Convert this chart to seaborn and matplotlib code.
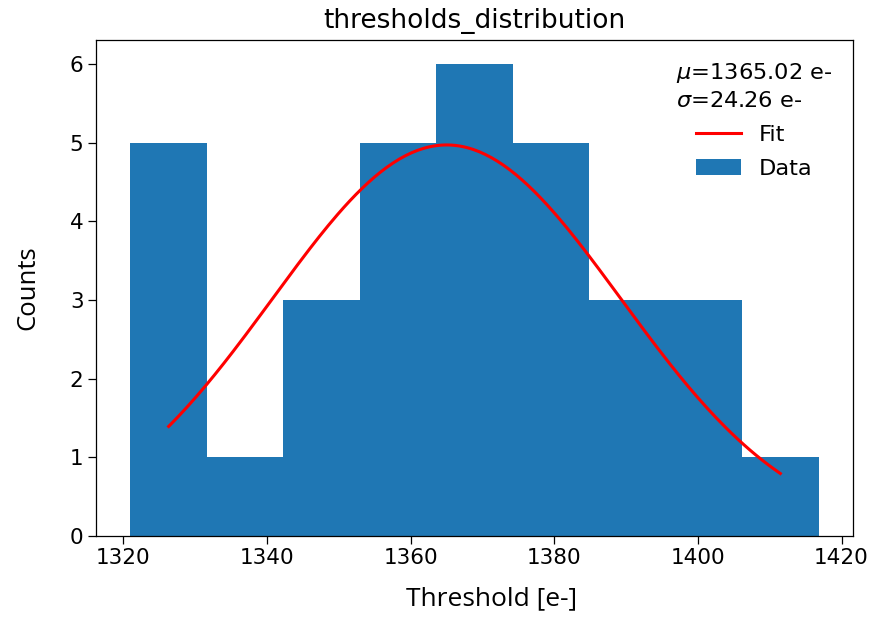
import numpy as np
import pandas as pd
import matplotlib
matplotlib.use("Agg")
import matplotlib.pyplot as plt
import seaborn as sns

# Histogram data
bin_edges = [1321.0, 1331.64, 1342.29, 1352.93, 1363.58, 1374.22, 1384.87, 1395.51, 1406.16, 1416.8]
counts = [5, 1, 3, 5, 6, 5, 3, 3, 1]

# Gaussian fit parameters
fit_mu = 1365.02
fit_sigma = 24.26
fit_amp = 4.97

title = "thresholds_distribution"
xlabel = "Threshold [e-]"
ylabel = "Counts"

centers = [(a + b) / 2 for a, b in zip(bin_edges[:-1], bin_edges[1:])]
hist_df = pd.DataFrame({"threshold": centers, "count": counts})

xs = np.linspace(centers[0], centers[-1], 200)
fit_df = pd.DataFrame({"x": xs, "y": fit_amp * np.exp(-0.5 * ((xs - fit_mu) / fit_sigma) ** 2)})

fig = plt.figure(figsize=(8.74, 6.2), dpi=100)
ax = fig.add_axes([0.1098, 0.1355, 0.8662, 0.7995])

sns.histplot(data=hist_df, x="threshold", weights="count", bins=bin_edges,
             color="#1f77b4", alpha=1.0, linewidth=0, ax=ax, label="Data")
sns.lineplot(data=fit_df, x="x", y="y", color="red", linewidth=2.2, ax=ax, label="Fit")

ax.set_xlim(1316.2, 1421.6)
ax.set_ylim(0, 6.3)
ax.set_xticks([1320, 1340, 1360, 1380, 1400, 1420])
ax.set_yticks([0, 1, 2, 3, 4, 5, 6])
ax.tick_params(labelsize=15.5, length=5.5, width=0.9, direction="out")
for s in ax.spines.values():
    s.set_linewidth(0.9)
    s.set_visible(True)

ax.set_title(title, fontsize=19, family="DejaVu Sans", pad=9)
ax.set_xlabel(xlabel, fontsize=19, family="Open Sans", labelpad=13)
ax.set_ylabel(ylabel, fontsize=18.5, family="Open Sans", labelpad=21)
ax.xaxis.label.set_x(0.522)

handles, labels = ax.get_legend_handles_labels()
order = [labels.index("Fit"), labels.index("Data")]
leg = ax.legend([handles[i] for i in order], [labels[i] for i in order],
                title="$\\mu$=1365.02 e-\n$\\sigma$=24.26 e-",
                loc="upper right", frameon=False, fontsize=16.2, title_fontsize=16.2,
                labelspacing=0.62)
leg.get_title().set_multialignment("left")
leg.get_title().set_linespacing(1.38)

fig.savefig("out.png", dpi=100)
